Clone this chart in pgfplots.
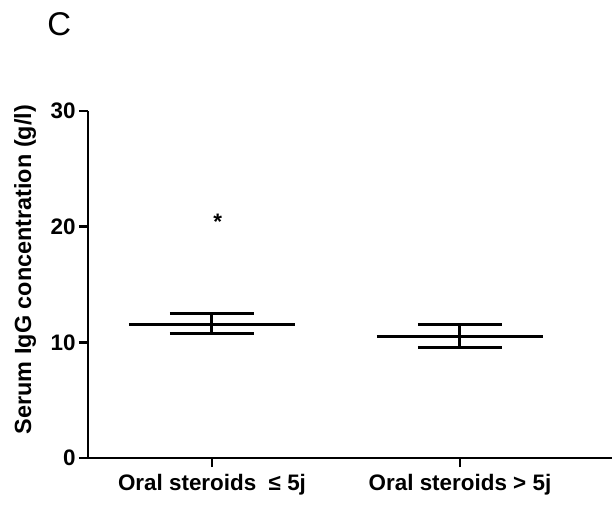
\documentclass[border=0pt]{standalone}
\usepackage{fontspec}
\setmainfont{Liberation Sans}
\usepackage{pgfplots}
\pgfplotsset{compat=1.18}

\begin{document}
\begin{tikzpicture}
\useasboundingbox (-88bp,-60bp) rectangle (524bp,458bp);
\begin{axis}[
    at={(0,0)}, anchor=south west,
    scale only axis,
    width=524bp, height=347bp,
    xmin=-0.5, xmax=1.613,
    ymin=0, ymax=30,
    axis x line*=bottom,
    axis y line*=left,
    axis line style={line width=2.6bp},
    every tick/.style={black, line width=2.4bp},
    tick align=outside,
    major tick length=9bp,
    xtick={0,1},
    xticklabels={Oral steroids\ \ ≤ 5j, Oral steroids > 5j},
    ytick={0,10,20,30},
    tick label style={font=\fontsize{22.5}{25}\selectfont\bfseries},
    xticklabel style={yshift=-4bp},
    /pgf/number format/assume math mode=true,
    ylabel={Serum IgG concentration (g/l)},
    every axis y label/.style={at={(axis description cs:-0.12,0.543)}, rotate=90, anchor=center,
        font=\fontsize{23.5}{26}\selectfont\bfseries},
    clip=false,
    unbounded coords=jump,
]
% group 1: mean line, SEM bar, caps
\addplot[black, line width=3bp] coordinates {
    (-0.335,11.58) (0.335,11.58)
    (nan,nan)
    (0,10.74) (0,12.45)
    (nan,nan)
    (-0.17,12.45) (0.17,12.45)
    (nan,nan)
    (-0.17,10.74) (0.17,10.74)
};
% group 2
\addplot[black, line width=3bp] coordinates {
    (0.665,10.54) (1.335,10.54)
    (nan,nan)
    (1,9.59) (1,11.52)
    (nan,nan)
    (0.83,11.52) (1.17,11.52)
    (nan,nan)
    (0.83,9.59) (1.17,9.59)
};
\node[font=\fontsize{22.5}{25}\selectfont\bfseries] at (axis cs:0.023,20.4) {*};
\node[font=\fontsize{33}{36}\selectfont] at (axis description cs:-0.055,1.249) {C};
\end{axis}
\end{tikzpicture}
\end{document}
